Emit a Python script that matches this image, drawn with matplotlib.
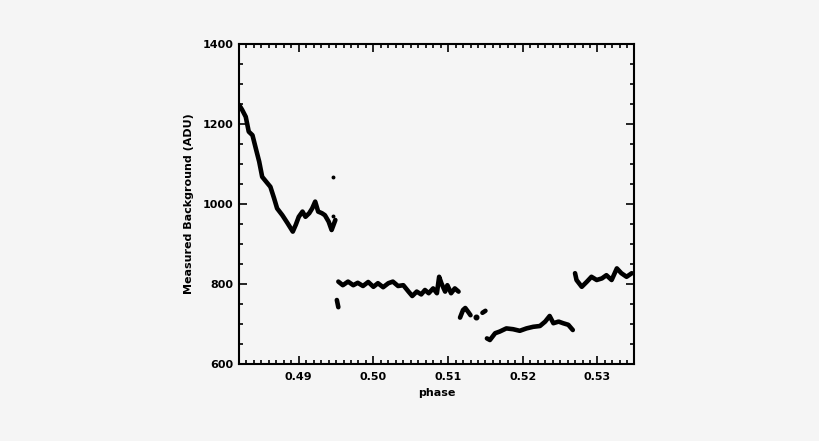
import matplotlib
matplotlib.use("Agg")
import matplotlib.pyplot as plt
from matplotlib.ticker import MultipleLocator, FormatStrFormatter

# ---- data ----
seg1_x = [0.4820, 0.4824, 0.4829, 0.4833, 0.4838, 0.4843, 0.4847, 0.4851, 0.4858,
          0.4862, 0.4867, 0.4871, 0.4878, 0.4885, 0.4892, 0.4896, 0.4900, 0.4905,
          0.4909, 0.4914, 0.4918, 0.4922, 0.4926, 0.4931, 0.4935, 0.4940, 0.4944, 0.4949]
seg1_y = [1248, 1236, 1218, 1181, 1172, 1135, 1106, 1068, 1052,
          1043, 1014, 989, 972, 952, 931, 948, 968, 981,
          968, 977, 989, 1006, 981, 977, 972, 956, 935, 960]

seg2_x = [0.4951, 0.4953]
seg2_y = [760, 742]

seg3_x = [0.4953, 0.4959, 0.4966, 0.4973, 0.4979, 0.4986, 0.4993, 0.5000, 0.5006,
          0.5013, 0.5020, 0.5026, 0.5033, 0.5040, 0.5047, 0.5052, 0.5058, 0.5064,
          0.5069, 0.5074, 0.5080, 0.5085, 0.5088, 0.5091, 0.5096, 0.5099, 0.5104,
          0.5109, 0.5114]
seg3_y = [806, 797, 806, 797, 803, 795, 805, 793, 802,
          792, 802, 806, 795, 797, 781, 770, 781, 774,
          785, 777, 789, 777, 818, 802, 781, 797, 777,
          789, 781]

seg4a_x = [0.5116, 0.5120, 0.5123, 0.5127, 0.5130]
seg4a_y = [716, 735, 740, 730, 722]
seg4b_x = [0.5137]
seg4b_y = [718]
seg4c_x = [0.5146, 0.5150]
seg4c_y = [728, 733]

seg5_x = [0.5152, 0.5156, 0.5163, 0.5169, 0.5178, 0.5187, 0.5196, 0.5205, 0.5214,
          0.5223, 0.5230, 0.5236, 0.5241, 0.5248, 0.5254, 0.5261, 0.5267]
seg5_y = [664, 660, 677, 681, 689, 687, 683, 689, 693,
          695, 706, 720, 702, 706, 702, 698, 685]

seg6_x = [0.5270, 0.5272, 0.5279, 0.5286, 0.5292, 0.5299, 0.5306, 0.5312, 0.5319,
          0.5326, 0.5332, 0.5339, 0.5346]
seg6_y = [827, 810, 793, 806, 818, 810, 814, 822, 810,
          839, 827, 818, 827]

outlier_x = [0.4946, 0.4946]
outlier_y = [1067, 970]

xticks = [0.49, 0.50, 0.51, 0.52, 0.53]
yticks = [600, 800, 1000, 1200, 1400]

bg = "#f5f5f5"
plt.rcParams["font.family"] = ["DejaVu Sans"]
plt.rcParams["font.weight"] = "bold"

fig = plt.figure(figsize=(8.2, 4.41), dpi=100, facecolor=bg)
ax = fig.add_axes([0.2915, 0.1746, 0.7732 - 0.2915, 0.9002 - 0.1746], facecolor=bg)

line_kw = dict(color="black", lw=3.3, solid_joinstyle="round", solid_capstyle="round")
for xs, ys in [(seg1_x, seg1_y), (seg2_x, seg2_y), (seg3_x, seg3_y),
               (seg4a_x, seg4a_y), (seg4c_x, seg4c_y), (seg5_x, seg5_y),
               (seg6_x, seg6_y)]:
    ax.plot(xs, ys, **line_kw)
ax.plot(seg4b_x, seg4b_y, "o", color="black", ms=3.3)
ax.plot(outlier_x, outlier_y, "o", color="black", ms=1.8)

ax.set_xlim(0.4820, 0.5349)
ax.set_ylim(600, 1400)
ax.set_xticks(xticks)
ax.set_yticks(yticks)
ax.xaxis.set_major_formatter(FormatStrFormatter("%.2f"))
ax.xaxis.set_minor_locator(MultipleLocator(0.001))
ax.yaxis.set_minor_locator(MultipleLocator(50))

ax.tick_params(which="both", direction="in", top=True, right=True, width=1.2,
               labelsize=8, colors="black")
ax.tick_params(which="major", length=5.5)
ax.tick_params(axis="x", which="major", pad=6)
ax.tick_params(axis="y", which="major", pad=4)
ax.tick_params(which="minor", length=3)
for s in ax.spines.values():
    s.set_linewidth(1.5)

ax.set_xlabel("phase", fontsize=8, labelpad=4, fontweight="bold")
ax.set_ylabel("Measured Background (ADU)", fontsize=8, labelpad=6, fontweight="bold")

fig.savefig("out.png", dpi=100, facecolor=bg)
